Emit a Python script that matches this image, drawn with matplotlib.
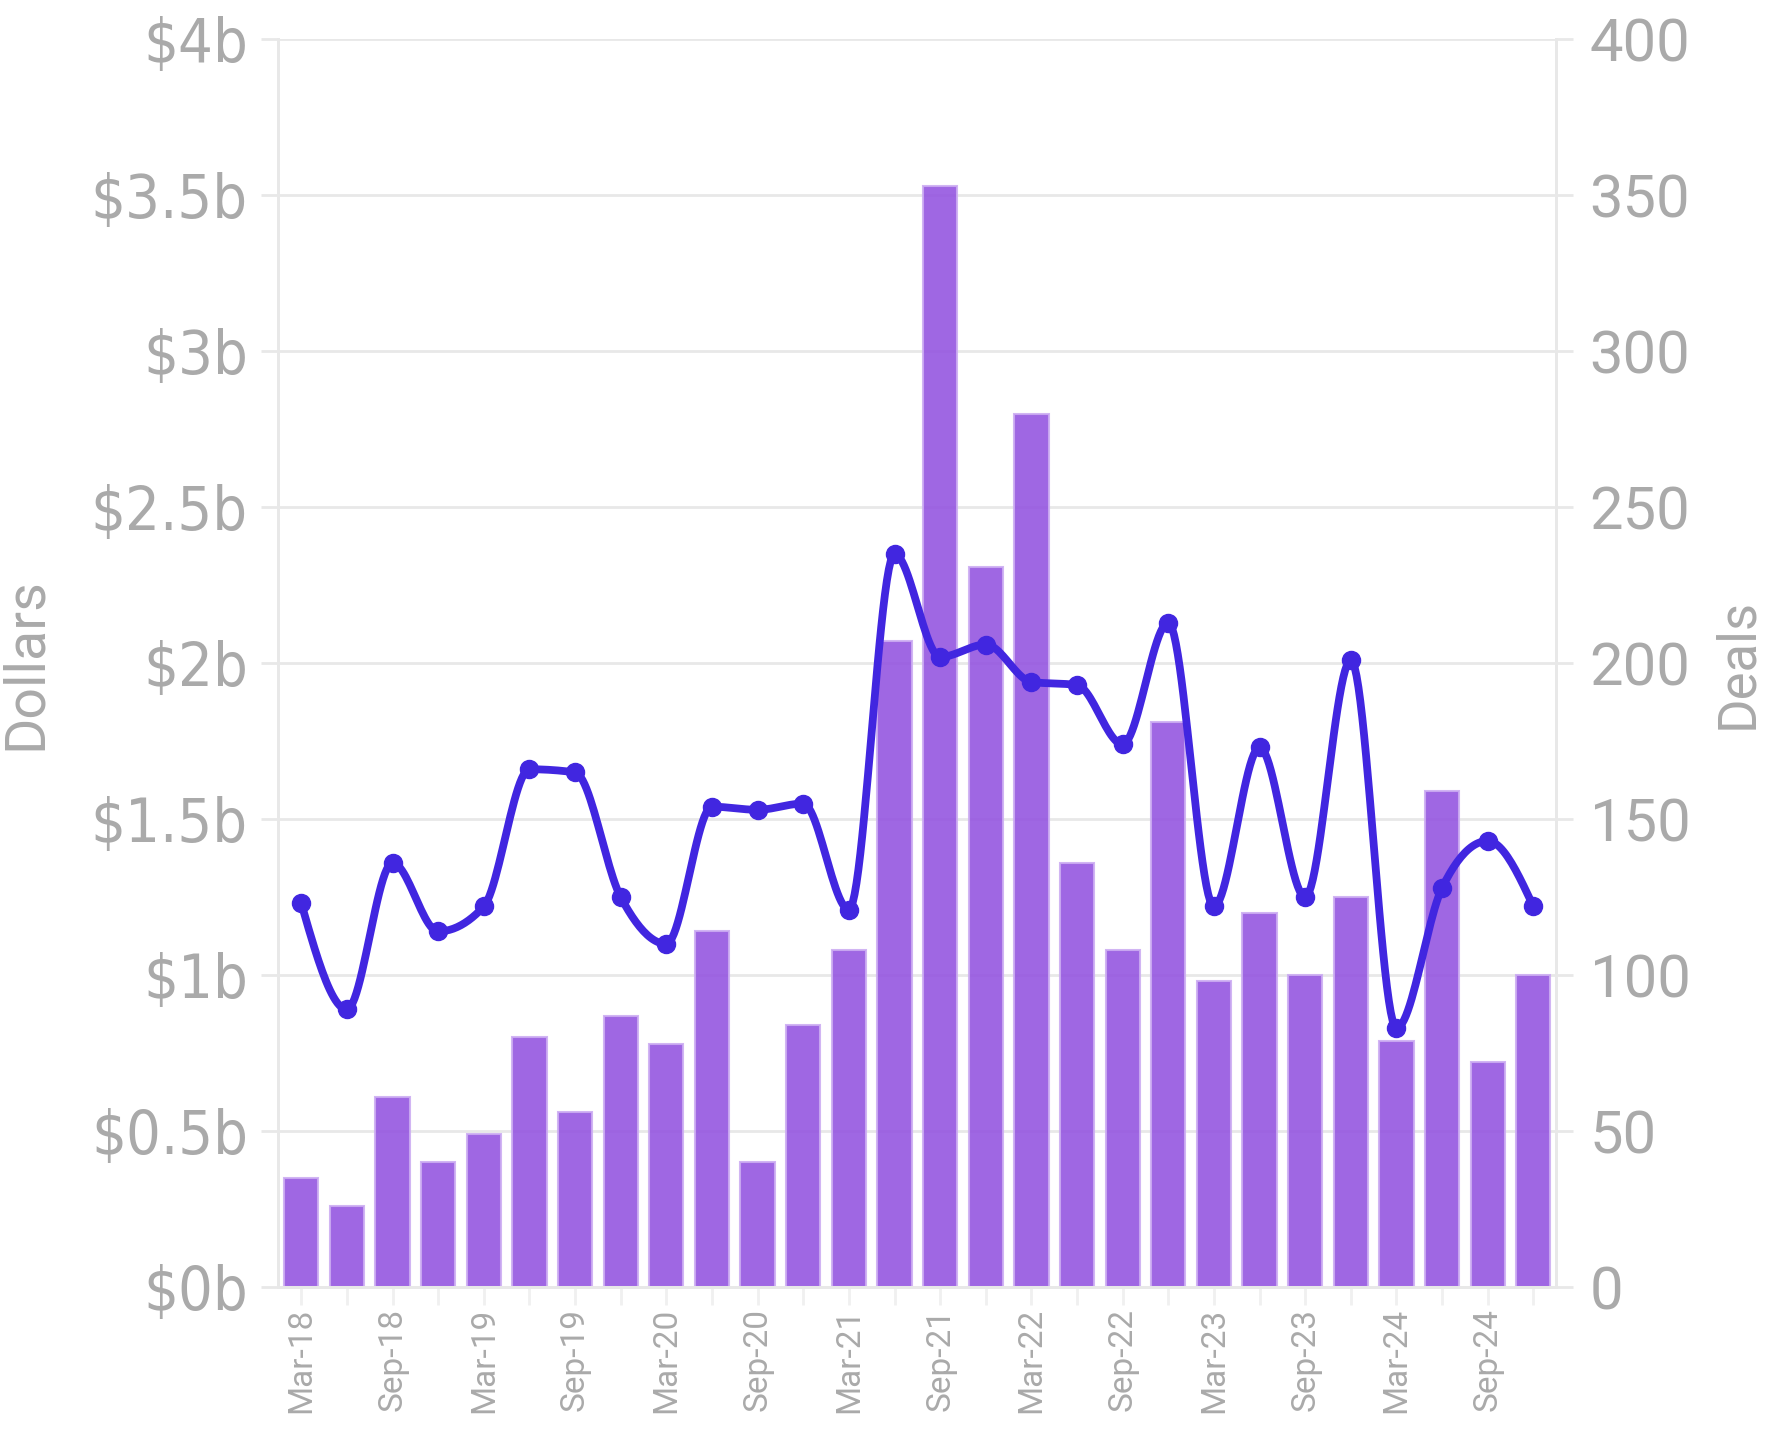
import numpy as np
import matplotlib
matplotlib.use("Agg")
import matplotlib.pyplot as plt
from matplotlib import font_manager

# Quarterly venture data, Mar-18 .. Dec-24
quarters = ["Mar-18", "Jun-18", "Sep-18", "Dec-18",
            "Mar-19", "Jun-19", "Sep-19", "Dec-19",
            "Mar-20", "Jun-20", "Sep-20", "Dec-20",
            "Mar-21", "Jun-21", "Sep-21", "Dec-21",
            "Mar-22", "Jun-22", "Sep-22", "Dec-22",
            "Mar-23", "Jun-23", "Sep-23", "Dec-23",
            "Mar-24", "Jun-24", "Sep-24", "Dec-24"]

# Capital invested, $ billions (bars, left axis)
dollars_b = [0.35, 0.26, 0.61, 0.40,
             0.49, 0.80, 0.56, 0.87,
             0.78, 1.14, 0.40, 0.84,
             1.08, 2.07, 3.53, 2.31,
             2.80, 1.36, 1.08, 1.81,
             0.98, 1.20, 1.00, 1.25,
             0.79, 1.59, 0.72, 1.00]

# Number of deals (line, right axis)
deals = [123, 89, 136, 114,
         122, 166, 165, 125,
         110, 154, 153, 155,
         121, 235, 202, 206,
         194, 193, 174, 213,
         122, 173, 125, 201,
         83, 128, 143, 122]

left_ticks = [0, 0.5, 1, 1.5, 2, 2.5, 3, 3.5, 4]
left_labels = ["$0b", "$0.5b", "$1b", "$1.5b", "$2b", "$2.5b", "$3b", "$3.5b", "$4b"]
right_ticks = [0, 50, 100, 150, 200, 250, 300, 350, 400]

BAR_COLOR = "#9556e0"
LINE_COLOR = "#4126e0"
TEXT_COLOR = "#aaaaaa"
GRID_COLOR = "#e8e8e8"


def has_font(name):
    try:
        font_manager.findfont(font_manager.FontProperties(family=name),
                              fallback_to_default=False)
        return True
    except Exception:
        return False


def narrow_font():
    """Pick a condensed sans face if one is installed."""
    prefs = ["Liberation Sans Narrow", "DejaVu Sans", "Roboto", "Noto Sans", "Open Sans"]
    found = {}
    for f in font_manager.fontManager.ttflist:
        name = f.fname.lower()
        is_cond = ("condensed" in name or "narrow" in name or
                   str(f.stretch).lower() in ("condensed", "semi-condensed", "extra-condensed"))
        if not is_cond or "bold" in name or "italic" in name or "oblique" in name:
            continue
        found.setdefault(f.name, f.fname)
    for p in prefs:
        if p in found:
            return font_manager.FontProperties(fname=found[p])
    if found:
        return font_manager.FontProperties(fname=next(iter(found.values())))
    return font_manager.FontProperties(family="DejaVu Sans")


regular = "Roboto" if has_font("Roboto") else "DejaVu Sans"
narrow_fp = narrow_font()


def monotone_curve(x, y, samples=24):
    """Monotone cubic (Fritsch-Carlson / d3 monotoneX) curve through the points."""
    x = np.asarray(x, float)
    y = np.asarray(y, float)
    n = len(x)
    h = np.diff(x)
    s = np.diff(y) / h
    t = np.zeros(n)
    for i in range(1, n - 1):
        if s[i - 1] * s[i] <= 0:
            t[i] = 0.0
        else:
            p = (s[i - 1] * h[i] + s[i] * h[i - 1]) / (h[i - 1] + h[i])
            t[i] = (np.sign(s[i - 1]) + np.sign(s[i])) * min(abs(s[i - 1]), abs(s[i]), 0.5 * abs(p))
    t[0] = (3 * s[0] - t[1]) / 2 if n > 2 else s[0]
    t[-1] = (3 * s[-1] - t[-2]) / 2 if n > 2 else s[-1]
    xs, ys = [], []
    for i in range(n - 1):
        u = np.linspace(0, 1, samples, endpoint=(i == n - 2))
        h00 = 2 * u**3 - 3 * u**2 + 1
        h10 = u**3 - 2 * u**2 + u
        h01 = -2 * u**3 + 3 * u**2
        h11 = u**3 - u**2
        xs.append(x[i] + u * h[i])
        ys.append(h00 * y[i] + h10 * h[i] * t[i] + h01 * y[i + 1] + h11 * h[i] * t[i + 1])
    return np.concatenate(xs), np.concatenate(ys)


fig = plt.figure(figsize=(17.68, 14.36), dpi=100)
ax = fig.add_axes([0.1575, 0.1038, 0.7227, 0.8687])
ax2 = ax.twinx()

pos = np.arange(len(quarters))

ax.bar(pos, dollars_b, width=0.75, color=BAR_COLOR, alpha=0.9,
       edgecolor=(0.80, 0.68, 0.95, 0.6), linewidth=1.5, zorder=2)

cx, cy = monotone_curve(pos, deals)
ax2.plot(cx, cy, color=LINE_COLOR, linewidth=5.6, solid_capstyle="round",
         solid_joinstyle="round", zorder=3)
ax2.plot(pos, deals, "o", color=LINE_COLOR, markersize=13, zorder=4)

ax.set_xlim(-0.5, len(quarters) - 0.5)
ax.set_ylim(0, 4)
ax2.set_ylim(0, 400)

# Grid and frame
ax.set_axisbelow(True)
ax.yaxis.grid(True, color=GRID_COLOR, linewidth=2)
ax.xaxis.grid(False)
for a in (ax, ax2):
    a.spines["top"].set_visible(False)
    for side in ("left", "right", "bottom"):
        a.spines[side].set_color(GRID_COLOR)
        a.spines[side].set_linewidth(2)

# Left axis
ax.set_yticks(left_ticks)
ax.set_yticklabels(left_labels)
ax.tick_params(axis="y", length=12, width=2, color=GRID_COLOR, pad=10,
               labelcolor=TEXT_COLOR, labelsize=44)
for lbl in ax.get_yticklabels():
    lbl.set_fontproperties(narrow_fp)
    lbl.set_fontsize(44)

# Right axis
ax2.set_yticks(right_ticks)
ax2.set_yticklabels([str(v) for v in right_ticks])
ax2.tick_params(axis="y", length=12, width=2, color=GRID_COLOR, pad=12,
                labelcolor=TEXT_COLOR, labelsize=43)
for lbl in ax2.get_yticklabels():
    lbl.set_fontfamily(regular)

# Bottom axis: tick at every quarter, label every second one
ax.set_xticks(pos)
ax.set_xticklabels([q if i % 2 == 0 else "" for i, q in enumerate(quarters)],
                   rotation=90, va="top", ha="center")
ax.tick_params(axis="x", length=13, width=2, color="#f0f0f0", pad=2,
               labelcolor=TEXT_COLOR, labelsize=24)
for lbl in ax.get_xticklabels():
    lbl.set_fontfamily(regular)

ax.set_ylabel("Dollars", color=TEXT_COLOR, fontsize=40, fontfamily=regular)
ax.yaxis.set_label_coords(-0.177, 0.5)
ax2.set_ylabel("Deals", color=TEXT_COLOR, fontsize=38, fontfamily=regular,
               rotation=90)
ax2.yaxis.set_label_coords(1.122, 0.5)

fig.savefig("out.png", dpi=100, facecolor="white")
